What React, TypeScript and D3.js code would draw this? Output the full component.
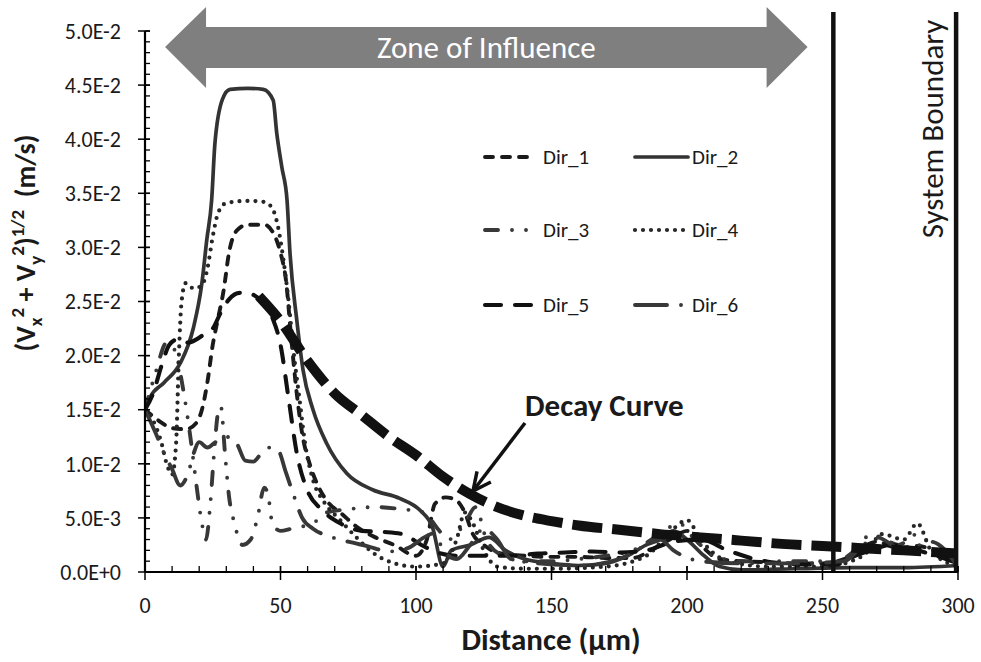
import React, { useEffect } from 'react';
import * as d3 from 'd3';

const W = 981;
const H = 662;

// ---- axes ----
const xTickValues = [0, 50, 100, 150, 200, 250, 300];
const xTickLabels = ['0', '50', '100', '150', '200', '250', '300'];
const yTickValues = [0, 0.005, 0.01, 0.015, 0.02, 0.025, 0.03, 0.035, 0.04, 0.045, 0.05];
const yTickLabels = ['0.0E+0', '5.0E-3', '1.0E-2', '1.5E-2', '2.0E-2', '2.5E-2', '3.0E-2', '3.5E-2', '4.0E-2', '4.5E-2', '5.0E-2'];

// ---- series (distance µm, velocity m/s) ----
const dir1: [number, number][] = [
  [0, 0.015], [5, 0.014], [10, 0.0133], [15, 0.0132], [19, 0.0138], [21, 0.015], [23, 0.0175], [25, 0.021],
  [27, 0.0235], [29, 0.026], [31, 0.0295], [34, 0.0316], [38, 0.0321], [44, 0.0321], [48, 0.031], [50, 0.0295],
  [52, 0.027], [54, 0.0215], [56, 0.0165], [58, 0.0128], [61, 0.0098], [64, 0.0079], [68, 0.0063], [72, 0.0055],
  [78, 0.0042], [85, 0.0032], [92, 0.0025], [100, 0.0015], [104, 0.003], [107, 0.0063], [111, 0.0069],
  [115, 0.0066], [118, 0.0055], [121, 0.0035], [125, 0.0025], [130, 0.0018], [140, 0.0015], [150, 0.0014],
  [160, 0.0014], [170, 0.0013], [180, 0.0013], [188, 0.0022], [195, 0.0032], [200, 0.0038], [205, 0.0025],
  [212, 0.0012], [220, 0.001], [230, 0.0009], [240, 0.0008], [250, 0.0008], [258, 0.0012], [264, 0.0022],
  [270, 0.0028], [278, 0.0022], [285, 0.0024], [293, 0.0018], [300, 0.0012],
];
const dir2: [number, number][] = [
  [0, 0.015], [2, 0.0162], [7, 0.0175], [13, 0.0193], [17.8, 0.0225], [21, 0.0267], [22.8, 0.0307],
  [24.6, 0.0344], [25.8, 0.0396], [28.6, 0.0437], [31.4, 0.0446], [38, 0.0447], [43.6, 0.0446],
  [47.3, 0.0436], [48.6, 0.0406], [50.5, 0.0374], [52.4, 0.0344], [53.5, 0.0295], [56, 0.0233],
  [58.3, 0.0187], [62, 0.015], [67, 0.0119], [74.5, 0.0091], [84, 0.0076], [94, 0.0068], [101.5, 0.0057],
  [106, 0.0042], [110, 0.0005], [113, 0.002], [120, 0.0025], [127, 0.0032], [133, 0.002], [140, 0.0012],
  [150, 0.0008], [160, 0.0006], [170, 0.0008], [178, 0.0015], [185, 0.0025], [190, 0.003], [195, 0.0038],
  [200, 0.003], [205, 0.0018], [212, 0.0005], [220, 0.0002], [240, 0.0003], [260, 0.0004], [280, 0.0004],
  [300, 0.0006],
];
const dir3: [number, number][] = [
  [0, 0.015], [4, 0.0185], [8, 0.0212], [11, 0.0205], [14, 0.017], [17, 0.012], [19, 0.008], [21, 0.0045],
  [22.5, 0.003], [24, 0.006], [25.5, 0.011], [27, 0.0148], [28, 0.0153], [29.5, 0.011], [31, 0.007],
  [33, 0.0045], [36, 0.0025], [39, 0.003], [41.5, 0.005], [44, 0.0078], [45.5, 0.007], [47, 0.0045],
  [50, 0.0038], [54, 0.004], [58, 0.0042], [62, 0.0045], [67, 0.0055], [75, 0.0058], [85, 0.006],
  [95, 0.0058], [103, 0.0055], [108, 0.004], [112, 0.003], [118, 0.0045], [122, 0.006], [126, 0.003],
  [132, 0.0015], [140, 0.001], [150, 0.001], [160, 0.0012], [170, 0.0015], [180, 0.002], [190, 0.0035],
  [197, 0.0045], [203, 0.003], [210, 0.0015], [220, 0.001], [240, 0.001], [255, 0.001], [262, 0.002],
  [268, 0.0035], [273, 0.003], [278, 0.0025], [285, 0.0035], [292, 0.002], [300, 0.0008],
];
const dir4: [number, number][] = [
  [0, 0.015], [3, 0.014], [6, 0.012], [8, 0.01], [10, 0.009], [11.5, 0.012], [12.5, 0.02], [13.5, 0.025],
  [15, 0.0267], [18, 0.0262], [21, 0.0265], [23, 0.028], [25, 0.031], [27, 0.0332], [30, 0.0341],
  [38, 0.0343], [44, 0.0342], [47, 0.0336], [49, 0.032], [51, 0.029], [53, 0.025], [55, 0.02], [57, 0.016],
  [59, 0.012], [62, 0.0085], [66, 0.0065], [72, 0.0048], [78, 0.0032], [84, 0.0018], [92, 0.0008],
  [100, 0.0005], [110, 0.0008], [115, 0.003], [118, 0.0055], [121, 0.0045], [125, 0.002], [130, 0.0005],
  [140, 0.0003], [150, 0.0003], [170, 0.0005], [185, 0.0015], [195, 0.004], [200, 0.0048], [205, 0.003],
  [215, 0.001], [230, 0.0005], [250, 0.0005], [265, 0.0015], [272, 0.0035], [280, 0.003], [285, 0.0045],
  [290, 0.002], [300, 0.0005],
];
const dir5: [number, number][] = [
  [0, 0.015], [3, 0.0165], [6, 0.019], [9, 0.021], [12, 0.0215], [16, 0.0212], [19, 0.0215], [22, 0.022],
  [25, 0.0225], [28, 0.024], [31, 0.0252], [35, 0.0258], [39, 0.0257], [43, 0.025], [47, 0.0235],
  [50, 0.021], [53, 0.016], [56, 0.011], [60, 0.0075], [65, 0.0058], [72, 0.0045], [80, 0.0038],
  [88, 0.0037], [95, 0.0035], [102, 0.0025], [108, 0.0018], [115, 0.0015], [125, 0.0015], [135, 0.0015],
  [145, 0.0017], [155, 0.0018], [165, 0.0019], [175, 0.0018], [185, 0.002], [195, 0.0028], [205, 0.003],
  [215, 0.002], [225, 0.0012], [240, 0.0007], [255, 0.0007], [262, 0.0015], [268, 0.002], [275, 0.0025],
  [285, 0.002], [292, 0.0015], [300, 0.0008],
];
const dir6: [number, number][] = [
  [0, 0.015], [4, 0.0128], [7, 0.011], [10, 0.0095], [13, 0.008], [16, 0.0092], [18, 0.011], [20, 0.012],
  [23, 0.0115], [26, 0.012], [30, 0.0125], [34, 0.0118], [37, 0.0103], [40, 0.0102], [43, 0.011],
  [46, 0.0115], [49, 0.0113], [52, 0.0092], [55, 0.007], [58, 0.005], [62, 0.004], [68, 0.0033],
  [75, 0.0028], [82, 0.0024], [90, 0.0019], [97, 0.0022], [103, 0.0032], [107, 0.0036], [110, 0.002],
  [115, 0.0012], [120, 0.0025], [125, 0.004], [130, 0.003], [135, 0.0012], [145, 0.0008], [160, 0.0006],
  [175, 0.0012], [185, 0.0025], [190, 0.003], [195, 0.002], [205, 0.001], [220, 0.0008], [240, 0.0008],
  [258, 0.001], [265, 0.0025], [270, 0.0032], [280, 0.002], [290, 0.0028], [300, 0.0005],
];
const decayCurve: [number, number][] = [
  [42, 0.0255], [50, 0.0232], [60, 0.0195], [70, 0.0165], [80, 0.0145], [90, 0.0125], [100, 0.0108],
  [110, 0.0088], [120, 0.0072], [130, 0.006], [140, 0.0052], [150, 0.0047], [160, 0.0043], [175, 0.0039],
  [190, 0.0035], [205, 0.0032], [220, 0.0029], [235, 0.0026], [250, 0.0024], [265, 0.0022], [280, 0.002],
  [300, 0.0017],
];

const seriesNames = ['Dir_1', 'Dir_2', 'Dir_3', 'Dir_4', 'Dir_5', 'Dir_6'];
const seriesData = [dir1, dir2, dir3, dir4, dir5, dir6];
const boundaryX = [254, 299.3];

type Style = { color: string; width: number; dash: string; cap: string };
const seriesStyles: Style[] = [
  { color: '#1a1a1a', width: 3.9, dash: '8,9', cap: 'round' },
  { color: '#333333', width: 3.7, dash: 'none', cap: 'round' },
  { color: '#383838', width: 3.9, dash: '13,14,0,14,0,14', cap: 'round' },
  { color: '#262626', width: 4.2, dash: '0,8', cap: 'round' },
  { color: '#111111', width: 4.1, dash: '16,14', cap: 'round' },
  { color: '#383838', width: 3.9, dash: '32,14,0,14', cap: 'round' },
];

const FONT = 'Carlito, Lato, "Open Sans", sans-serif';

export default function App() {
  useEffect(() => {
    document.body.style.margin = '0';
  }, []);

  const x = d3.scaleLinear().domain([0, 300]).range([145, 958]);
  const y = d3.scaleLinear().domain([0, 0.05]).range([572, 31]);

  const line = d3
    .line<[number, number]>()
    .x((d) => x(d[0]))
    .y((d) => y(d[1]))
    .curve(d3.curveMonotoneX);

  const xMinor = d3.range(0, 301, 10);
  const yMinor = d3.range(0, 51, 1).map((v) => v / 1000);

  // legend layout
  const legendRows = [157, 230, 305];
  const legendCols = [
    { x1: 485, x2: 535, tx: 543 },
    { x1: 635, x2: 688, tx: 692 },
  ];

  // decay arrow
  const arrStart = { x: 525, y: 423 };
  const arrTip = { x: 473, y: 491 };
  const ang = Math.atan2(arrTip.y - arrStart.y, arrTip.x - arrStart.x);
  const headLen = 20;
  const wing = (s: number) => ({
    x: arrTip.x - headLen * Math.cos(ang + s * 0.45),
    y: arrTip.y - headLen * Math.sin(ang + s * 0.45),
  });
  const w1 = wing(1);
  const w2 = wing(-1);

  // zone arrow
  const zL = x(7.4);
  const zR = x(244.5);
  const zMid = 47;
  const headW = 41;
  const zonePts = [
    [zL, zMid],
    [zL + headW, 7],
    [zL + headW, 27],
    [zR - headW, 27],
    [zR - headW, 7],
    [zR, zMid],
    [zR - headW, 88],
    [zR - headW, 68],
    [zL + headW, 68],
    [zL + headW, 88],
  ]
    .map((p) => p.join(','))
    .join(' ');

  return (
    <svg
      width={W}
      height={H}
      viewBox={`0 0 ${W} ${H}`}
      style={{ position: 'absolute', left: 0, top: 0, background: '#fff', fontFamily: FONT }}
    >
      <defs>
        <clipPath id="plotClip">
          <rect x={x(0)} y={y(0.05)} width={x(300) - x(0)} height={y(0) - y(0.05)} />
        </clipPath>
      </defs>
      <rect x={0} y={0} width={W} height={H} fill="#fff" />

      {/* zone of influence arrow */}
      <polygon points={zonePts} fill="#7f7f7f" />
      <text x={(zL + zR) / 2} y={58} textAnchor="middle" fill="#fff" fontSize={31}>
        Zone of Influence
      </text>

      {/* series */}
      <g clipPath="url(#plotClip)">
        {seriesData.map((d, i) => (
          <path
            key={seriesNames[i]}
            d={line(d) || ''}
            fill="none"
            stroke={seriesStyles[i].color}
            strokeWidth={seriesStyles[i].width}
            strokeDasharray={seriesStyles[i].dash}
            strokeLinecap={seriesStyles[i].cap as any}
            strokeLinejoin="round"
          />
        ))}
        <path
          d={line(decayCurve) || ''}
          fill="none"
          stroke="#111"
          strokeWidth={10}
          strokeDasharray="30,10"
        />
      </g>

      {/* system boundary lines */}
      {boundaryX.map((b) => (
        <line key={b} x1={x(b)} x2={x(b)} y1={y(0.05176)} y2={y(0)} stroke="#111" strokeWidth={4.5} />
      ))}
      <text transform={`translate(943,129) rotate(-90)`} textAnchor="middle" fontSize={31} fill="#1a1a1a">
        System Boundary
      </text>

      {/* axes */}
      <line x1={x(0)} x2={x(300)} y1={y(0)} y2={y(0)} stroke="#000" strokeWidth={2.2} />
      <line x1={x(0)} x2={x(0)} y1={y(0)} y2={y(0.05)} stroke="#000" strokeWidth={2.2} />
      {xMinor.map((v) => (
        <line key={'xm' + v} x1={x(v)} x2={x(v)} y1={y(0)} y2={y(0) - 6} stroke="#000" strokeWidth={1.3} />
      ))}
      {xTickValues.map((v) => (
        <line key={'xM' + v} x1={x(v)} x2={x(v)} y1={y(0) - 6} y2={y(0) + 8} stroke="#000" strokeWidth={1.5} />
      ))}
      {yMinor.map((v) => (
        <line key={'ym' + v} x1={x(0)} x2={x(0) + 5} y1={y(v)} y2={y(v)} stroke="#000" strokeWidth={1.3} />
      ))}
      {yTickValues.map((v) => (
        <line key={'yM' + v} x1={x(0) - 7} x2={x(0) + 5} y1={y(v)} y2={y(v)} stroke="#000" strokeWidth={1.5} />
      ))}
      {xTickValues.map((v, i) => (
        <text key={'xl' + v} x={x(v)} y={613} textAnchor="middle" fontSize={22} fill="#1a1a1a">
          {xTickLabels[i]}
        </text>
      ))}
      {yTickValues.map((v, i) => (
        <text key={'yl' + v} x={121} y={y(v)} dy="0.35em" textAnchor="end" fontSize={22} fill="#1a1a1a">
          {yTickLabels[i]}
        </text>
      ))}

      {/* axis titles */}
      <text x={551} y={650} textAnchor="middle" fontSize={31} fontWeight="bold" fill="#1a1a1a">
        Distance (µm)
      </text>
      <text
        transform="translate(35,243) rotate(-90)"
        textAnchor="middle"
        fontSize={28}
        fontWeight="bold"
        fill="#1a1a1a"
        style={{ whiteSpace: 'pre' }}
      >
        <tspan>(V</tspan>
        <tspan fontSize={19} dy={7}>x</tspan>
        <tspan fontSize={19} dy={-18}>2</tspan>
        <tspan dy={11}> + V</tspan>
        <tspan fontSize={19} dy={7}>y</tspan>
        <tspan fontSize={19} dy={-18}>2</tspan>
        <tspan dy={11}>)</tspan>
        <tspan fontSize={19} dy={-11}>1/2</tspan>
        <tspan dy={11}>{'  (m/s)'}</tspan>
      </text>

      {/* legend */}
      {seriesNames.map((name, i) => {
        const row = legendRows[Math.floor(i / 2)];
        const col = legendCols[i % 2];
        const s = seriesStyles[i];
        return (
          <g key={'lg' + name}>
            <line
              x1={col.x1}
              x2={col.x2}
              y1={row}
              y2={row}
              stroke={s.color}
              strokeWidth={s.width}
              strokeDasharray={s.dash}
              strokeLinecap={s.cap as any}
            />
            <text x={col.tx} y={row} dy="0.35em" fontSize={21} fill="#1a1a1a">
              {name}
            </text>
          </g>
        );
      })}

      {/* decay curve annotation */}
      <text x={525} y={416} fontSize={31} fontWeight="bold" fill="#1a1a1a">
        Decay Curve
      </text>
      <line x1={arrStart.x} y1={arrStart.y} x2={arrTip.x} y2={arrTip.y} stroke="#111" strokeWidth={3.5} />
      <polyline
        points={`${w1.x},${w1.y} ${arrTip.x},${arrTip.y} ${w2.x},${w2.y}`}
        fill="none"
        stroke="#111"
        strokeWidth={3.5}
        strokeLinejoin="miter"
      />
    </svg>
  );
}
